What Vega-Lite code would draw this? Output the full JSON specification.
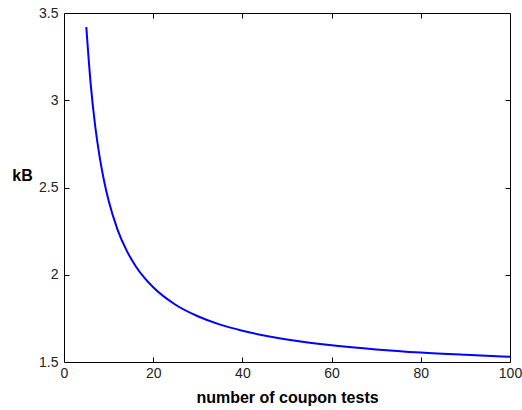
{
  "$schema": "https://vega.github.io/schema/vega-lite/v6.json",
  "width": 446,
  "height": 349,
  "autosize": {"type": "none"},
  "padding": {"left": 64, "top": 13, "right": 12, "bottom": 48},
  "background": "white",
  "config": {
    "view": {"stroke": "black", "strokeWidth": 1},
    "font": "Liberation Sans",
    "axis": {
      "grid": false,
      "domain": false,
      "ticks": true,
      "tickColor": "black",
      "tickWidth": 1,
      "tickSize": 5,
      "zindex": 1,
      "labelFont": "Liberation Sans",
      "labelFontSize": 14,
      "labelColor": "#222",
      "titleFont": "Liberation Sans",
      "titleFontSize": 16,
      "titleFontWeight": "bold",
      "titleColor": "black"
    }
  },
  "data": {
    "values": [
      {"n": 5, "kB": 3.42},
      {"n": 6, "kB": 3.088},
      {"n": 7, "kB": 2.851},
      {"n": 8, "kB": 2.674},
      {"n": 9, "kB": 2.536},
      {"n": 10, "kB": 2.425},
      {"n": 12, "kB": 2.259},
      {"n": 14, "kB": 2.141},
      {"n": 16, "kB": 2.052},
      {"n": 18, "kB": 1.983},
      {"n": 20, "kB": 1.928},
      {"n": 25, "kB": 1.828},
      {"n": 30, "kB": 1.762},
      {"n": 35, "kB": 1.714},
      {"n": 40, "kB": 1.679},
      {"n": 50, "kB": 1.629},
      {"n": 60, "kB": 1.596},
      {"n": 70, "kB": 1.572},
      {"n": 80, "kB": 1.554},
      {"n": 90, "kB": 1.541},
      {"n": 100, "kB": 1.53}
    ]
  },
  "layer": [
    {
      "mark": {"type": "line", "strokeOpacity": 0},
      "encoding": {
        "x": {
          "field": "n", "type": "quantitative",
          "scale": {"domain": [0, 100], "nice": false, "zero": false},
          "axis": {"orient": "top", "offset": -349, "values": [20, 40, 60, 80], "labels": false, "title": null}
        },
        "y": {
          "field": "kB", "type": "quantitative",
          "scale": {"domain": [1.5, 3.5], "nice": false, "zero": false},
          "axis": {"orient": "right", "offset": -446, "values": [2, 2.5, 3], "labels": false, "title": null}
        }
      }
    },
    {
      "mark": {"type": "line", "strokeOpacity": 0},
      "encoding": {
        "x": {
          "field": "n", "type": "quantitative",
          "scale": {"domain": [0, 100], "nice": false, "zero": false},
          "axis": {"orient": "bottom", "offset": -349, "values": [20, 40, 60, 80], "labels": false, "title": null}
        },
        "y": {
          "field": "kB", "type": "quantitative",
          "scale": {"domain": [1.5, 3.5], "nice": false, "zero": false},
          "axis": {"orient": "left", "offset": -446, "values": [2, 2.5, 3], "labels": false, "title": null}
        }
      }
    },
    {
      "mark": {"type": "line", "color": "#0000ff", "strokeWidth": 2, "interpolate": "monotone", "clip": true},
      "encoding": {
        "x": {
          "field": "n", "type": "quantitative",
          "scale": {"domain": [0, 100], "nice": false, "zero": false},
          "axis": {"values": [0, 20, 40, 60, 80, 100], "ticks": false, "title": "number of coupon tests", "labelPadding": 4, "titleY": 40, "titleBaseline": "alphabetic", "labelFlush": false}
        },
        "y": {
          "field": "kB", "type": "quantitative",
          "scale": {"domain": [1.5, 3.5], "nice": false, "zero": false},
          "axis": {"values": [1.5, 2, 2.5, 3, 3.5], "format": "~g", "ticks": false, "title": "kB", "titleAngle": 0, "titleAlign": "center", "titleBaseline": "middle", "titleX": -42, "titleY": 162, "labelPadding": 6, "labelFlush": false}
        }
      }
    }
  ],
  "resolve": {"axis": {"x": "independent", "y": "independent"}}
}
